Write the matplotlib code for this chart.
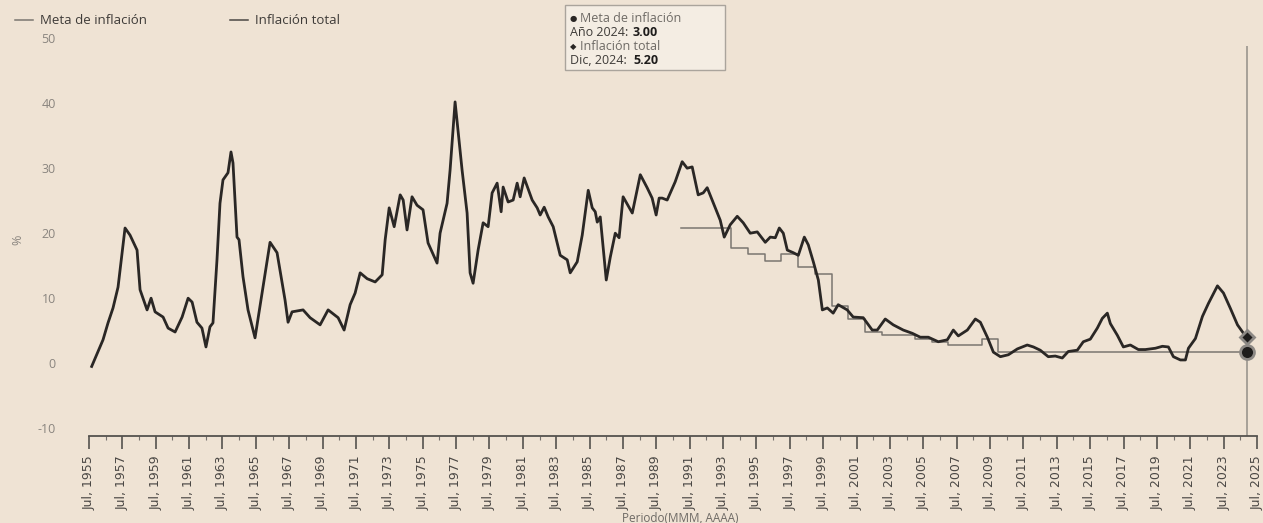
import matplotlib
matplotlib.use('Agg')
import matplotlib.pyplot as plt
from matplotlib.patches import Rectangle

# inflacion total anual (%)
infl_year = [1955.66, 1956.34, 1956.64, 1956.94, 1957.24, 1957.66, 1957.96, 1958.38, 1958.56, 1958.98,
             1959.22, 1959.46, 1959.94, 1960.24, 1960.66, 1961.08, 1961.44, 1961.68, 1961.97, 1962.27,
             1962.51, 1962.75, 1962.93, 1963.17, 1963.35, 1963.53, 1963.83, 1964.01, 1964.13, 1964.37,
             1964.49, 1964.73, 1965.03, 1965.45, 1965.87, 1966.35, 1966.77, 1967.25, 1967.43, 1967.67,
             1968.33, 1968.75, 1969.35, 1969.83, 1970.43, 1970.79, 1971.15, 1971.45, 1971.75, 1972.17,
             1972.65, 1973.07, 1973.25, 1973.49, 1973.79, 1974.15, 1974.33, 1974.56, 1974.86, 1975.16,
             1975.52, 1975.82, 1976.36, 1976.54, 1976.96, 1977.14, 1977.44, 1977.86, 1978.16, 1978.34,
             1978.52, 1978.82, 1979.12, 1979.42, 1979.66, 1979.96, 1980.20, 1980.32, 1980.62, 1980.92,
             1981.16, 1981.34, 1981.58, 1982.06, 1982.36, 1982.54, 1982.78, 1983.02, 1983.32, 1983.74,
             1984.16, 1984.34, 1984.76, 1985.06, 1985.42, 1985.66, 1985.84, 1985.96, 1986.14, 1986.50,
             1986.74, 1987.04, 1987.27, 1987.51, 1988.06, 1988.54, 1988.95, 1989.25, 1989.49, 1989.67,
             1989.85, 1990.15, 1990.63, 1991.05, 1991.35, 1991.65, 1992.01, 1992.31, 1992.55, 1993.03,
             1993.33, 1993.57, 1993.93, 1994.35, 1994.71, 1995.13, 1995.55, 1996.03, 1996.33, 1996.63,
             1996.87, 1997.11, 1997.35, 1997.71, 1998.01, 1998.37, 1998.61, 1998.91, 1999.21, 1999.45,
             1999.75, 2000.10, 2000.40, 2000.94, 2001.30, 2001.90, 2002.44, 2002.74, 2003.22, 2003.70,
             2004.30, 2004.84, 2005.32, 2005.80, 2006.40, 2006.94, 2007.30, 2007.60, 2008.14, 2008.62,
             2008.92, 2009.34, 2009.70, 2010.12, 2010.60, 2011.14, 2011.73, 2012.10, 2012.51, 2012.99,
             2013.41, 2013.83, 2014.19, 2014.73, 2015.09, 2015.51, 2015.93, 2016.23, 2016.53, 2016.71,
             2017.13, 2017.49, 2017.91, 2018.39, 2018.81, 2019.41, 2019.83, 2020.19, 2020.49, 2020.91,
             2021.21, 2021.39, 2021.81, 2022.23, 2022.59, 2023.13, 2023.49, 2023.91, 2024.33, 2024.69,
             2024.92]
infl_value = [0.7, 4.8, 7.4, 9.7, 12.9, 22.0, 20.9, 18.6, 12.5, 9.4,
              11.2, 9.1, 8.3, 6.6, 6.0, 8.3, 11.2, 10.6, 7.5, 6.6,
              3.7, 6.8, 7.4, 17.1, 25.8, 29.4, 30.5, 33.7, 32.0, 20.6,
              20.2, 14.5, 9.4, 5.1, 12.0, 19.8, 18.2, 10.9, 7.5, 9.1,
              9.4, 8.2, 7.1, 9.4, 8.2, 6.3, 10.2, 12.0, 15.1, 14.2,
              13.7, 14.8, 20.2, 25.1, 22.2, 27.1, 26.3, 21.7, 26.8, 25.5,
              24.8, 19.7, 16.6, 21.2, 25.8, 30.9, 41.4, 30.9, 24.3, 15.1,
              13.5, 18.6, 22.8, 22.2, 27.4, 28.9, 24.5, 28.3, 26.0, 26.3,
              28.9, 26.8, 29.7, 26.3, 25.1, 24.0, 25.2, 23.7, 22.2, 17.8,
              17.1, 15.1, 16.8, 20.9, 27.8, 25.1, 24.5, 22.9, 23.7, 14.0,
              17.5, 21.2, 20.5, 26.8, 24.3, 30.2, 28.2, 26.6, 24.0, 26.6,
              26.6, 26.3, 29.1, 32.2, 31.2, 31.4, 27.1, 27.4, 28.2, 25.1,
              23.2, 20.6, 22.5, 23.8, 22.8, 21.2, 21.4, 19.8, 20.6, 20.5,
              22.0, 21.2, 18.6, 18.2, 17.8, 20.6, 19.4, 16.8, 14.0, 9.4,
              9.7, 8.9, 10.2, 9.4, 8.3, 8.2, 6.3, 6.3, 8.0, 7.1,
              6.3, 5.8, 5.2, 5.2, 4.5, 4.8, 6.3, 5.4, 6.3, 8.0,
              7.5, 5.2, 2.9, 2.2, 2.5, 3.4, 4.0, 3.7, 3.2, 2.2,
              2.3, 2.0, 3.0, 3.2, 4.5, 4.9, 6.6, 8.1, 8.9, 7.3,
              5.5, 3.7, 4.0, 3.3, 3.3, 3.5, 3.8, 3.7, 2.2, 1.7,
              1.7, 3.5, 5.0, 8.4, 10.4, 13.1, 12.0, 9.6, 7.1, 5.8,
              5.2]

# meta de inflacion por año (%)
target_year = list(range(1991, 2025)) + [2024.92]
target_value = [22, 22, 22, 19, 18, 17, 18, 16, 15, 10, 8, 6, 5.5, 5.5, 5, 4.5, 4, 4, 5,
                3, 3, 3, 3, 3, 3, 3, 3, 3, 3, 3, 3, 3, 3, 3, 3]

tick_pos = [1955.5 + 2 * k for k in range(36)]
tick_labels = ['Jul, {}'.format(1955 + 2 * k) for k in range(36)]
y_ticks = [-10, 0, 10, 20, 30, 40, 50]

bg = '#efe3d4'
plt.rcParams['font.family'] = ['Open Sans', 'DejaVu Sans']

fig = plt.figure(figsize=(12.63, 5.23), dpi=100, facecolor=bg)
ax = fig.add_axes([89 / 1263, 87 / 523, 1168 / 1263, 390 / 523], facecolor=bg)

ax.plot(target_year, target_value, drawstyle='steps-post', color='#7a7670', lw=1.1, zorder=2)
ax.plot(infl_year, infl_value, color='#2a2725', lw=2.0, zorder=3)

# cursor del tooltip en el ultimo dato
ax.axvline(infl_year[-1], color='#9a958e', lw=1.2, zorder=1)
ax.plot(target_year[-1], target_value[-1], 'o', ms=10, color='#1e1c1b', mec='#8d8985', mew=2, zorder=4)
ax.plot(infl_year[-1], infl_value[-1], 'D', ms=7, color='#1e1c1b', mec='#8d8985', mew=2, zorder=4)

ax.set_xlim(1955.5, 2025.5)
ax.set_ylim(-10, 50)
for s in ['top', 'right', 'left']:
    ax.spines[s].set_visible(False)
ax.spines['bottom'].set_color('#55524e')
ax.spines['bottom'].set_linewidth(1.3)

ax.set_xticks(tick_pos)
ax.set_xticklabels(tick_labels, rotation=90, fontsize=9, color='#4a4744',
                   family=['Liberation Sans Narrow', 'DejaVu Sans'])
ax.set_xticks([1955.5 + k for k in range(71)], minor=True)
ax.tick_params(axis='x', which='major', length=9, width=1.2, color='#55524e', pad=5)
ax.tick_params(axis='x', which='minor', length=3, width=0.8, color='#77736e')

ax.set_yticks(y_ticks)
ax.set_yticklabels([str(v) for v in y_ticks], fontsize=9, color='#8a857f')
ax.tick_params(axis='y', length=0, pad=24)
for lab in ax.get_yticklabels():
    lab.set_verticalalignment('bottom')

fig.text(18 / 1263, 1 - 240 / 523, '%', rotation=90, fontsize=9, color='#8a857f', ha='center', va='center')
fig.text(680 / 1263, 1 - 518 / 523, 'Periodo(MMM, AAAA)', fontsize=8.5, color='#6e6a65', ha='center', va='center')

# leyenda
fig.lines.append(plt.Line2D([15 / 1263, 33 / 1263], [1 - 20 / 523] * 2, transform=fig.transFigure,
                            color='#7a7670', lw=1.1))
fig.text(40 / 1263, 1 - 20 / 523, 'Meta de inflación', fontsize=9.5, color='#3e3b38', va='center')
fig.lines.append(plt.Line2D([230 / 1263, 248 / 1263], [1 - 20 / 523] * 2, transform=fig.transFigure,
                            color='#4a4744', lw=1.1))
fig.text(255 / 1263, 1 - 20 / 523, 'Inflación total', fontsize=9.5, color='#3e3b38', va='center')

# tooltip
fig.patches.append(Rectangle((565 / 1263, 1 - 70 / 523), 160 / 1263, 65 / 523, transform=fig.transFigure,
                             facecolor='#f4ede3', edgecolor='#aaa49c', lw=1.0, zorder=0))
fig.text(570 / 1263, 1 - 18 / 523, '\u25cf', fontsize=6, color='#2a2725', va='center', family=['DejaVu Sans'])
fig.text(580 / 1263, 1 - 18 / 523, 'Meta de inflación', fontsize=9, color='#6e6a65', va='center')
fig.text(570 / 1263, 1 - 32 / 523, 'Año 2024:', fontsize=9, color='#3e3b38', va='center')
fig.text(633 / 1263, 1 - 32 / 523, '3.00', fontsize=9, fontweight='bold', color='#1e1c1b', va='center')
fig.text(570 / 1263, 1 - 47 / 523, '\u25c6', fontsize=6, color='#2a2725', va='center', family=['DejaVu Sans'])
fig.text(580 / 1263, 1 - 47 / 523, 'Inflación total', fontsize=9, color='#6e6a65', va='center')
fig.text(570 / 1263, 1 - 61 / 523, 'Dic, 2024:', fontsize=9, color='#3e3b38', va='center')
fig.text(633 / 1263, 1 - 61 / 523, '5.20', fontsize=9, fontweight='bold', color='#1e1c1b', va='center')

fig.savefig('out.png', dpi=100, facecolor=bg)
